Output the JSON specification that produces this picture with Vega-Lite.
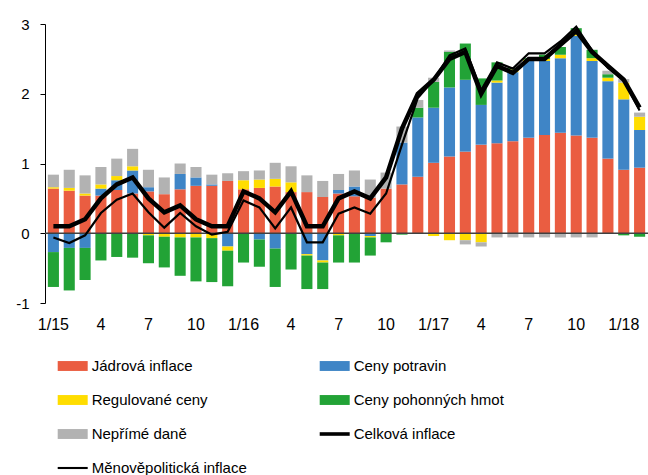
{
  "$schema": "https://vega.github.io/schema/vega-lite/v6.json",
  "width": 603,
  "height": 279,
  "autosize": "none",
  "padding": {"left": 45, "top": 24, "right": 0, "bottom": 172},
  "background": "white",
  "config": {"font": "Liberation Sans", "view": {"stroke": null}},
  "datasets": {
    "d": [
      {"m":"1/15","Jádrová inflace":0.64,"Ceny potravin":-0.27,"Regulované ceny":0.02,"Ceny pohonných hmot":-0.50,"Nepřímé daně":0.18,"Celková inflace":0.1,"Měnověpolitická inflace":-0.06},
      {"m":"2/15","Jádrová inflace":0.61,"Ceny potravin":-0.21,"Regulované ceny":0.04,"Ceny pohonných hmot":-0.61,"Nepřímé daně":0.26,"Celková inflace":0.1,"Měnověpolitická inflace":-0.14},
      {"m":"3/15","Jádrová inflace":0.54,"Ceny potravin":-0.21,"Regulované ceny":0.03,"Ceny pohonných hmot":-0.46,"Nepřímé daně":0.26,"Celková inflace":0.2,"Měnověpolitická inflace":-0.03},
      {"m":"4/15","Jádrová inflace":0.54,"Ceny potravin":0.10,"Regulované ceny":0.06,"Ceny pohonných hmot":-0.39,"Nepřímé daně":0.25,"Celková inflace":0.5,"Měnověpolitická inflace":0.29},
      {"m":"5/15","Jádrová inflace":0.62,"Ceny potravin":0.14,"Regulované ceny":0.06,"Ceny pohonných hmot":-0.34,"Nepřímé daně":0.25,"Celková inflace":0.7,"Měnověpolitická inflace":0.48},
      {"m":"6/15","Jádrová inflace":0.57,"Ceny potravin":0.33,"Regulované ceny":0.06,"Ceny pohonných hmot":-0.35,"Nepřímé daně":0.25,"Celková inflace":0.8,"Měnověpolitická inflace":0.57},
      {"m":"7/15","Jádrová inflace":0.60,"Ceny potravin":0.06,"Regulované ceny":-0.03,"Ceny pohonných hmot":-0.40,"Nepřímé daně":0.25,"Celková inflace":0.5,"Měnověpolitická inflace":0.30},
      {"m":"8/15","Jádrová inflace":0.56,"Ceny potravin":0.0,"Regulované ceny":-0.05,"Ceny pohonných hmot":-0.44,"Nepřímé daně":0.24,"Celková inflace":0.3,"Měnověpolitická inflace":0.08},
      {"m":"9/15","Jádrová inflace":0.63,"Ceny potravin":0.22,"Regulované ceny":-0.06,"Ceny pohonných hmot":-0.55,"Nepřímé daně":0.15,"Celková inflace":0.4,"Měnověpolitická inflace":0.29},
      {"m":"10/15","Jádrová inflace":0.68,"Ceny potravin":0.12,"Regulované ceny":-0.06,"Ceny pohonných hmot":-0.63,"Nepřímé daně":0.15,"Celková inflace":0.2,"Měnověpolitická inflace":0.10},
      {"m":"11/15","Jádrová inflace":0.68,"Ceny potravin":0.02,"Regulované ceny":-0.07,"Ceny pohonných hmot":-0.63,"Nepřímé daně":0.14,"Celková inflace":0.1,"Měnověpolitická inflace":-0.02},
      {"m":"12/15","Jádrová inflace":0.75,"Ceny potravin":-0.19,"Regulované ceny":-0.06,"Ceny pohonných hmot":-0.51,"Nepřímé daně":0.11,"Celková inflace":0.1,"Měnověpolitická inflace":0.02},
      {"m":"1/16","Jádrová inflace":0.63,"Ceny potravin":0.0,"Regulované ceny":0.13,"Ceny pohonných hmot":-0.42,"Nepřímé daně":0.13,"Celková inflace":0.6,"Měnověpolitická inflace":0.47},
      {"m":"2/16","Jádrová inflace":0.65,"Ceny potravin":-0.09,"Regulované ceny":0.12,"Ceny pohonných hmot":-0.39,"Nepřímé daně":0.13,"Celková inflace":0.5,"Měnověpolitická inflace":0.37},
      {"m":"3/16","Jádrová inflace":0.67,"Ceny potravin":-0.22,"Regulované ceny":0.11,"Ceny pohonných hmot":-0.55,"Nepřímé daně":0.23,"Celková inflace":0.3,"Měnověpolitická inflace":0.07},
      {"m":"4/16","Jádrová inflace":0.59,"Ceny potravin":0.0,"Regulované ceny":0.14,"Ceny pohonných hmot":-0.52,"Nepřímé daně":0.23,"Celková inflace":0.6,"Měnověpolitická inflace":0.37},
      {"m":"5/16","Jádrová inflace":0.59,"Ceny potravin":-0.30,"Regulované ceny":-0.02,"Ceny pohonných hmot":-0.48,"Nepřímé daně":0.24,"Celková inflace":0.1,"Měnověpolitická inflace":-0.13},
      {"m":"6/16","Jádrová inflace":0.52,"Ceny potravin":-0.39,"Regulované ceny":-0.03,"Ceny pohonných hmot":-0.38,"Nepřímé daně":0.23,"Celková inflace":0.1,"Měnověpolitická inflace":-0.13},
      {"m":"7/16","Jádrová inflace":0.57,"Ceny potravin":0.05,"Regulované ceny":-0.03,"Ceny pohonných hmot":-0.39,"Nepřímé daně":0.23,"Celková inflace":0.5,"Měnověpolitická inflace":0.28},
      {"m":"8/16","Jádrová inflace":0.53,"Ceny potravin":0.14,"Regulované ceny":0.0,"Ceny pohonných hmot":-0.42,"Nepřímé daně":0.23,"Celková inflace":0.6,"Měnověpolitická inflace":0.37},
      {"m":"9/16","Jádrová inflace":0.51,"Ceny potravin":-0.04,"Regulované ceny":-0.02,"Ceny pohonných hmot":-0.26,"Nepřímé daně":0.26,"Celková inflace":0.5,"Měnověpolitická inflace":0.28},
      {"m":"10/16","Jádrová inflace":0.64,"Ceny potravin":0.0,"Regulované ceny":0.0,"Ceny pohonných hmot":-0.13,"Nepřímé daně":0.23,"Celková inflace":0.8,"Měnověpolitická inflace":0.57},
      {"m":"11/16","Jádrová inflace":0.70,"Ceny potravin":0.60,"Regulované ceny":0.0,"Ceny pohonných hmot":-0.02,"Nepřímé daně":0.23,"Celková inflace":1.5,"Měnověpolitická inflace":1.27},
      {"m":"12/16","Jádrová inflace":0.81,"Ceny potravin":0.85,"Regulované ceny":-0.01,"Ceny pohonných hmot":0.14,"Nepřímé daně":0.11,"Celková inflace":2.0,"Měnověpolitická inflace":1.94},
      {"m":"1/17","Jádrová inflace":1.01,"Ceny potravin":0.79,"Regulované ceny":-0.04,"Ceny pohonných hmot":0.37,"Nepřímé daně":0.06,"Celková inflace":2.2,"Měnověpolitická inflace":2.2},
      {"m":"2/17","Jádrová inflace":1.10,"Ceny potravin":0.99,"Regulované ceny":-0.10,"Ceny pohonných hmot":0.51,"Nepřímé daně":0.02,"Celková inflace":2.5,"Měnověpolitická inflace":2.55},
      {"m":"3/17","Jádrová inflace":1.17,"Ceny potravin":1.03,"Regulované ceny":-0.10,"Ceny pohonných hmot":0.52,"Nepřímé daně":-0.06,"Celková inflace":2.6,"Měnověpolitická inflace":2.65},
      {"m":"4/17","Jádrová inflace":1.27,"Ceny potravin":0.57,"Regulované ceny":-0.13,"Ceny pohonných hmot":0.38,"Nepřímé daně":-0.06,"Celková inflace":2.0,"Měnověpolitická inflace":2.05},
      {"m":"5/17","Jádrová inflace":1.29,"Ceny potravin":0.87,"Regulované ceny":0.03,"Ceny pohonných hmot":0.26,"Nepřímé daně":-0.06,"Celková inflace":2.4,"Měnověpolitická inflace":2.45},
      {"m":"6/17","Jádrová inflace":1.32,"Ceny potravin":0.99,"Regulované ceny":0.04,"Ceny pohonných hmot":0.02,"Nepřímé daně":-0.06,"Celková inflace":2.3,"Měnověpolitická inflace":2.36},
      {"m":"7/17","Jádrová inflace":1.37,"Ceny potravin":1.10,"Regulované ceny":0.02,"Ceny pohonných hmot":0.02,"Nepřímé daně":-0.06,"Celková inflace":2.5,"Měnověpolitická inflace":2.58},
      {"m":"8/17","Jádrová inflace":1.41,"Ceny potravin":1.06,"Regulované ceny":0.03,"Ceny pohonných hmot":0.06,"Nepřímé daně":-0.06,"Celková inflace":2.5,"Měnověpolitická inflace":2.58},
      {"m":"9/17","Jádrová inflace":1.44,"Ceny potravin":1.07,"Regulované ceny":0.05,"Ceny pohonných hmot":0.11,"Nepřímé daně":-0.06,"Celková inflace":2.7,"Měnověpolitická inflace":2.75},
      {"m":"10/17","Jádrová inflace":1.40,"Ceny potravin":1.43,"Regulované ceny":0.03,"Ceny pohonných hmot":0.08,"Nepřímé daně":-0.06,"Celková inflace":2.9,"Měnověpolitická inflace":2.96},
      {"m":"11/17","Jádrová inflace":1.37,"Ceny potravin":1.10,"Regulované ceny":0.04,"Ceny pohonných hmot":0.12,"Nepřímé daně":-0.06,"Celková inflace":2.6,"Měnověpolitická inflace":2.62},
      {"m":"12/17","Jádrová inflace":1.07,"Ceny potravin":1.11,"Regulované ceny":0.05,"Ceny pohonných hmot":0.05,"Nepřímé daně":0.05,"Celková inflace":2.4,"Měnověpolitická inflace":2.37},
      {"m":"1/18","Jádrová inflace":0.91,"Ceny potravin":1.01,"Regulované ceny":0.24,"Ceny pohonných hmot":-0.03,"Nepřímé daně":0.05,"Celková inflace":2.2,"Měnověpolitická inflace":2.2},
      {"m":"2/18","Jádrová inflace":0.94,"Ceny potravin":0.54,"Regulované ceny":0.19,"Ceny pohonných hmot":-0.05,"Nepřímé daně":0.06,"Celková inflace":1.8,"Měnověpolitická inflace":1.76}
    ]
  },
  "layer": [
    {
      "data": {"name": "d"},
      "transform": [
        {"fold": ["Jádrová inflace","Ceny potravin","Regulované ceny","Ceny pohonných hmot","Nepřímé daně"], "as": ["s","v"]},
        {"calculate": "indexof(['Jádrová inflace','Ceny potravin','Regulované ceny','Ceny pohonných hmot','Nepřímé daně'], datum.s)", "as": "o"}
      ],
      "mark": {"type": "bar"},
      "encoding": {
        "x": {
          "field": "m", "type": "ordinal", "sort": null, "title": null,
          "scale": {"paddingInner": 0.3, "paddingOuter": 0.18},
          "axis": {
            "domain": false, "ticks": false, "labelAngle": 0, "labelPadding": 13,
            "labelFontSize": 16, "labelColor": "#000", "labelFont": "Liberation Sans",
            "values": ["1/15","4/15","7/15","10/15","1/16","4/16","7/16","10/16","1/17","4/17","7/17","10/17","1/18"],
            "labelExpr": "slice(datum.value,0,2) == '1/' ? datum.value : slice(datum.value,0,indexof(datum.value,'/'))"
          }
        },
        "y": {
          "field": "v", "type": "quantitative", "stack": "zero", "title": null,
          "scale": {"domain": [-1, 3], "nice": false, "zero": false},
          "axis": {
            "values": [-1, 0, 1, 2, 3], "grid": false, "domainColor": "#000", "tickColor": "#000",
            "tickSize": 5, "labelPadding": 11, "labelFontSize": 15, "labelColor": "#000",
            "labelFont": "Liberation Sans", "labelExpr": "'' + datum.value"
          }
        },
        "color": {
          "field": "s", "type": "nominal",
          "scale": {
            "domain": ["Jádrová inflace","Regulované ceny","Nepřímé daně","Měnověpolitická inflace","Ceny potravin","Ceny pohonných hmot","Celková inflace"],
            "range": ["#EA5D41","#FFDD00","#B2B2B2","#000000","#3F85C6","#22A336","#000000"]
          },
          "legend": {
            "title": null, "orient": "none", "legendX": 12.7, "legendY": 327, "columns": 2,
            "columnPadding": 72, "rowPadding": 11, "symbolSize": 900, "symbolStrokeWidth": 0,
            "labelFont": "Liberation Sans", "labelFontSize": 15, "labelColor": "#000", "labelOffset": 4,
            "labelLimit": 400, "padding": 0,
            "encode": {
              "symbols": {
                "update": {
                  "shape": {"signal": "datum.value == 'Celková inflace' ? 'M-1,-0.12L1,-0.12L1,0.12L-1,0.12Z' : (datum.value == 'Měnověpolitická inflace' ? 'M-1,-0.07L1,-0.07L1,0.07L-1,0.07Z' : 'M-1,-0.33L1,-0.33L1,0.33L-1,0.33Z')"}
                }
              }
            }
          }
        },
        "order": {"field": "o", "type": "quantitative"}
      }
    },
    {
      "data": {"values": [{}]},
      "mark": {"type": "rule", "color": "#404040", "strokeWidth": 1.5},
      "encoding": {"y": {"datum": 0}}
    },
    {
      "data": {"name": "d"},
      "mark": {"type": "line", "color": "#000", "strokeWidth": 4.5},
      "encoding": {
        "x": {"field": "m", "type": "ordinal", "sort": null, "title": null},
        "y": {"field": "Celková inflace", "type": "quantitative", "title": null}
      }
    },
    {
      "data": {"name": "d"},
      "mark": {"type": "line", "color": "#000", "strokeWidth": 2.2},
      "encoding": {
        "x": {"field": "m", "type": "ordinal", "sort": null, "title": null},
        "y": {"field": "Měnověpolitická inflace", "type": "quantitative", "title": null}
      }
    }
  ]
}
